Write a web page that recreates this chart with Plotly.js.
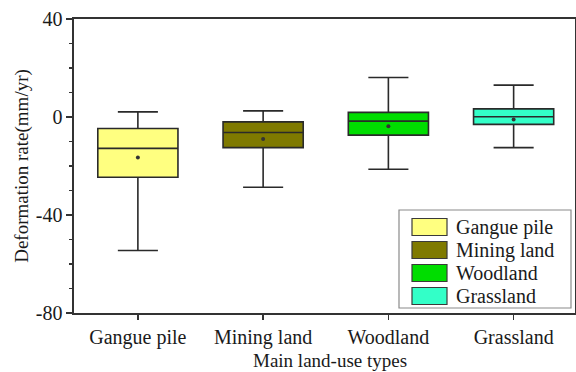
<!DOCTYPE html>
<html>
<head>
<meta charset="utf-8">
<script src="https://cdn.plot.ly/plotly-3.0.1.min.js"></script>
<style>html,body{margin:0;padding:0;background:#fff;}#chart{width:576px;height:372px;}</style>
</head>
<body>
<div id="chart"></div>
<script>
// ---- data ----
const categories = ["Gangue pile", "Mining land", "Woodland", "Grassland"];
const upperWhisker = [2.1, 2.5, 16.1, 13.0];
const q3Values     = [-4.7, -2.0, 1.9, 3.3];
const medianValues = [-12.8, -6.3, -1.7, 0.1];
const meanValues   = [-16.5, -9.0, -3.8, -1.0];
const q1Values     = [-24.6, -12.5, -7.4, -3.0];
const lowerWhisker = [-54.5, -28.7, -21.3, -12.5];
const fillColors   = ["#FFFF80", "#7F7A00", "#00DD00", "#33FFC8"];
const yTickVals    = [-80, -40, 0, 40];
const yTickText    = ["-80", "-40", "0", "40"];
const xTitle = "Main land-use types";
const yTitle = "Deformation rate(mm/yr)";

const FONT = "Liberation Serif, Times New Roman, serif";
const FS = 20;
const TXT = "#1a1a1a";

const traces = categories.map((c, i) => ({
  type: "box",
  name: c,
  x: [c],
  q1: [q1Values[i]],
  median: [medianValues[i]],
  q3: [q3Values[i]],
  lowerfence: [lowerWhisker[i]],
  upperfence: [upperWhisker[i]],
  fillcolor: fillColors[i],
  line: {color: "#2a2a2a", width: 1.6},
  width: 0.64,
  whiskerwidth: 0.5,
  boxpoints: false,
  showlegend: false,
  hoverinfo: "skip"
}));

traces.push({
  type: "scatter",
  mode: "markers",
  x: categories,
  y: meanValues,
  marker: {size: 4, color: "#333333"},
  showlegend: false,
  hoverinfo: "skip"
});

// ---- custom legend (large swatches), built from the arrays ----
const L = 74, R = 575, T = 19, B = 313;
const px2x = p => (p - L) / (R - L);
const py2y = p => (B - p) / (B - T);
const shapes = [{
  type: "rect", xref: "paper", yref: "paper",
  x0: px2x(399), x1: px2x(571), y0: py2y(308), y1: py2y(210),
  line: {color: "#8a8a8a", width: 1.2}, fillcolor: "#ffffff", layer: "above"
}];
const annotations = [];
categories.forEach((c, i) => {
  const cy = 227 + i * 23;
  shapes.push({
    type: "rect", xref: "paper", yref: "paper",
    x0: px2x(412), x1: px2x(447), y0: py2y(cy + 8.5), y1: py2y(cy - 8.5),
    line: {color: "#3a3a3a", width: 1.2}, fillcolor: fillColors[i], layer: "above"
  });
  annotations.push({
    xref: "paper", yref: "paper", x: px2x(454), y: py2y(cy),
    xanchor: "left", yanchor: "middle", showarrow: false,
    text: c, font: {family: FONT, size: FS, color: TXT}
  });
});
// x-axis title placed low near the bottom edge, as in the reference
annotations.push({
  xref: "paper", yref: "paper", x: px2x(330), y: py2y(360),
  xanchor: "center", yanchor: "middle", showarrow: false,
  text: xTitle, font: {family: FONT, size: 19, color: TXT}
});

const layout = {
  width: 576, height: 372,
  margin: {l: L, r: 576 - R, t: T, b: 372 - B},
  paper_bgcolor: "#ffffff", plot_bgcolor: "#ffffff",
  font: {family: FONT, size: FS, color: TXT},
  showlegend: false,
  boxmode: "overlay",
  xaxis: {
    type: "category",
    range: [-0.51, 3.49],
    showline: true, linecolor: "#333333", linewidth: 1.6, mirror: true,
    ticks: "outside", ticklen: 5, tickwidth: 1.4, tickcolor: "#333333",
    showgrid: false, zeroline: false,
    tickfont: {family: FONT, size: FS, color: TXT},
    automargin: false
  },
  yaxis: {
    range: [-80, 40],
    tickmode: "array",
    tickvals: yTickVals,
    ticktext: yTickText,
    showline: true, linecolor: "#333333", linewidth: 1.6, mirror: true,
    ticks: "outside", ticklen: 6, tickwidth: 1.4, tickcolor: "#333333",
    minor: {dtick: 10, ticks: "outside", ticklen: 3, tickwidth: 1.2, tickcolor: "#333333", showgrid: false},
    showgrid: false, zeroline: false,
    tickfont: {family: FONT, size: FS, color: TXT},
    title: {text: yTitle, font: {family: FONT, size: 19, color: TXT}, standoff: 2},
    automargin: false
  },
  shapes: shapes,
  annotations: annotations
};

Plotly.newPlot("chart", traces, layout, {staticPlot: true, displayModeBar: false});
</script>
</body>
</html>
